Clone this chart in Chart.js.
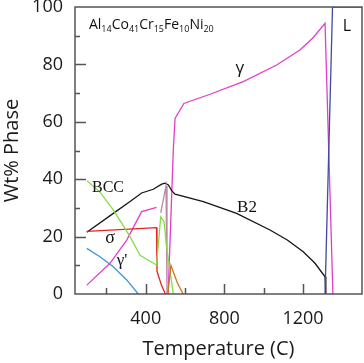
<!DOCTYPE html>
<html>
<head>
<meta charset="utf-8">
<script src="https://cdn.jsdelivr.net/npm/chart.js@4/dist/chart.umd.min.js"></script>
<style>
  html, body { margin: 0; padding: 0; background: #fff; }
</style>
</head>
<body>
<canvas id="phaseChart" width="364" height="363"></canvas>
<script>
// Temperatures (C) and Wt% Phase
const b2Temps = [100, 235, 320, 379, 438, 481, 498, 515, 532, 549, 693, 862, 1032, 1120, 1201, 1260, 1312, 1316];
const b2Vals  = [21.5, 28.1, 32.2, 35.2, 36.5, 38.3, 38.6, 38.0, 36.0, 34.8, 32.2, 28.1, 22.3, 18.8, 14.7, 10.8, 6.0, 0];

const gammaTemps = [100, 218, 303, 379, 455, 490, 514, 540, 549, 594, 727, 896, 1066, 1184, 1250, 1312, 1352];
const gammaVals  = [3.1, 10.7, 18.8, 28.7, 30.2, null, 0, 50, 61.2, 66.4, 69.6, 74.0, 79.8, 85.0, 89.2, 94.3, 0];

const bccTemps = [100, 167, 235, 320, 371, 455, 476, 493, 506, 540];
const bccVals  = [39.5, 35.5, 29.3, 20.0, 13.5, 10.1, 26.9, 25.2, 16.5, 0];

const sigmaTemps = [100, 455, 457, 480, 500];
const sigmaVals  = [21.8, 23.1, 8.0, 3.0, 0];

const gammaPrimeTemps = [100, 167, 235, 303, 362];
const gammaPrimeVals  = [15.9, 13.0, 9.5, 4.9, 0];

const mauveTemps = [476, 503, 508];
const mauveVals  = [28.3, 37.6, 0];

const brownTemps = [512, 528, 560, 590];
const brownVals  = [0, 10, 4, 0];

const liquidTemps = [1312, 1350, 1500];
const liquidVals  = [0, 100, 100];

const xTickLabels = [400, 800, 1200];
const yTickLabels = [0, 20, 40, 60, 80, 100];

const pts = (xs, ys) => xs.map((x, i) => ({ x: x, y: ys[i] }));

function series(data, color) {
    return {
        data: data,
        borderColor: color,
        borderWidth: 1.3,
        showLine: true,
        pointRadius: 0,
        fill: false,
        spanGaps: false
    };
}

// frame, inward ticks and the phase labels
const framePlugin = {
    id: 'framePlugin',
    afterDatasetsDraw(chart) {
        const { ctx, chartArea: a, scales: { x, y } } = chart;
        ctx.save();
        ctx.strokeStyle = '#555';
        ctx.lineWidth = 1.5;
        ctx.strokeRect(a.left, a.top, a.right - a.left, a.bottom - a.top);
        ctx.beginPath();
        x.ticks.forEach(t => {
            if (t.value % 200 !== 0 || t.value <= x.min || t.value >= x.max) return;
            const px = Math.round(x.getPixelForValue(t.value)) + 0.5;
            const len = xTickLabels.includes(t.value) ? 10 : 6;
            ctx.moveTo(px, a.bottom);
            ctx.lineTo(px, a.bottom - len);
        });
        y.ticks.forEach(t => {
            if (t.value <= y.min || t.value >= y.max) return;
            const py = Math.round(y.getPixelForValue(t.value)) + 0.5;
            const len = yTickLabels.includes(t.value) ? 11 : 5;
            ctx.moveTo(a.left, py);
            ctx.lineTo(a.left + len, py);
        });
        ctx.stroke();

        // text labels
        ctx.fillStyle = '#111';
        ctx.textAlign = 'center';
        ctx.textBaseline = 'middle';
        const put = (txt, tx, vy, font) => {
            ctx.font = font;
            ctx.fillText(txt, x.getPixelForValue(tx), y.getPixelForValue(vy));
        };
        put('L', 1423, 93.4, '16px "Open Sans"');
        put('γ', 879, 78.7, '17px "Open Sans"');
        put('B2', 915, 30, '17px "Liberation Serif"');
        put('BCC', 208, 36.9, '16px "Liberation Serif"');
        put('σ', 218, 19.5, '18px "Liberation Serif"');
        put("γ'", 279, 11.8, '17px "Liberation Serif"');

        // alloy composition with subscripts
        const parts = [['Al', '14'], ['Co', '41'], ['Cr', '15'], ['Fe', '10'], ['Ni', '20']];
        let cx = x.getPixelForValue(111);
        const base = y.getPixelForValue(92.3);
        ctx.textAlign = 'left';
        ctx.textBaseline = 'alphabetic';
        parts.forEach(p => {
            ctx.font = '14px "Open Sans"';
            ctx.fillText(p[0], cx, base);
            cx += ctx.measureText(p[0]).width;
            ctx.font = '9px "Open Sans"';
            ctx.fillText(p[1], cx, base + 3);
            cx += ctx.measureText(p[1]).width;
        });
        ctx.restore();
    }
};

const ctx = document.getElementById('phaseChart').getContext('2d');
const phaseChart = new Chart(ctx, {
    type: 'scatter',
    data: {
        datasets: [
            series(pts(liquidTemps, liquidVals), '#4646a6'),
            series(pts(gammaPrimeTemps, gammaPrimeVals), '#3a96d8'),
            series(pts(brownTemps, brownVals), '#c8781e'),
            series(pts(bccTemps, bccVals), '#86dc48'),
            series(pts(sigmaTemps, sigmaVals), '#e02424'),
            series(pts(mauveTemps, mauveVals), '#b88aa8'),
            series(pts(b2Temps, b2Vals), '#151515'),
            series(pts(gammaTemps, gammaVals), '#e040c8')
        ]
    },
    options: {
        responsive: false,
        animation: false,
        layout: {
            padding: { top: 7, right: 2, left: 0, bottom: 0 }
        },
        scales: {
            x: {
                type: 'linear',
                min: 40,
                max: 1500,
                grid: { display: false, drawTicks: false },
                border: { display: false },
                ticks: {
                    stepSize: 200,
                    padding: 14,
                    autoSkip: false,
                    maxRotation: 0,
                    color: '#1a1a1a',
                    font: { family: 'Open Sans', size: 18 },
                    callback: v => xTickLabels.includes(v) ? String(v) : ''
                },
                title: {
                    display: true,
                    text: 'Temperature (C)',
                    color: '#1a1a1a',
                    font: { family: 'Open Sans', size: 20 },
                    padding: { top: 0, bottom: 2 }
                },
                afterFit(s) {
                    s.height = 69;
                    s.paddingLeft = 0;
                    s.paddingRight = 0;
                }
            },
            y: {
                min: 0,
                max: 100,
                grid: { display: false, drawTicks: false },
                border: { display: false },
                ticks: {
                    stepSize: 10,
                    padding: 12,
                    autoSkip: false,
                    color: '#1a1a1a',
                    font: { family: 'Open Sans', size: 18 },
                    callback: v => yTickLabels.includes(v) ? String(v) : ''
                },
                title: {
                    display: true,
                    text: 'Wt% Phase',
                    color: '#1a1a1a',
                    font: { family: 'Open Sans', size: 20 },
                    padding: { top: 0, bottom: 0 }
                },
                afterFit(s) {
                    s.width = 75;
                    s.paddingTop = 0;
                    s.paddingBottom = 0;
                }
            }
        },
        plugins: {
            legend: { display: false },
            tooltip: { enabled: false }
        }
    },
    plugins: [framePlugin]
});
</script>
</body>
</html>
